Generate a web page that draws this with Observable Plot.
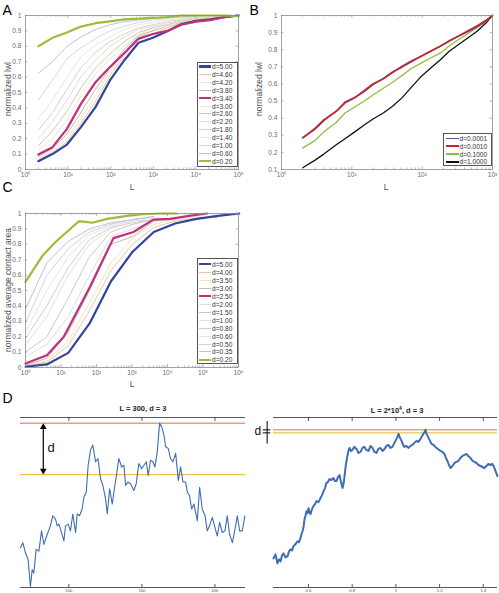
<!DOCTYPE html>
<html><head><meta charset="utf-8">
<script src="https://cdn.jsdelivr.net/npm/d3@7"></script>
<script src="https://cdn.jsdelivr.net/npm/@observablehq/plot@0.6"></script>
<style>
body{margin:0;background:#fff;font-family:"Liberation Sans",Arial,Helvetica,sans-serif;}
#fig{position:relative;width:499px;height:593px;overflow:hidden;background:#fff;}
#fig svg{position:absolute;}
.t{position:absolute;white-space:nowrap;line-height:1;}
.letter{font-size:14px;color:#000;}
.lab{font-size:8.5px;color:#555;}
.legend{position:absolute;background:#fff;border:0.8px solid #555;box-sizing:border-box;}
.row{position:absolute;height:8px;display:flex;align-items:center;font-size:6.6px;color:#333;white-space:nowrap;}
.sw{width:12px;margin-right:1px;}
.ttl{font-size:7.5px;font-weight:bold;color:#222;transform:translate(-50%,-50%);}
</style></head><body><div id="fig"></div><script>
// ---------------- Panel A data ----------------
const LA = [2, 4.3, 9.4, 20, 44, 96, 207, 450, 977, 2120, 4600, 10000, 21700, 47000, 100000];
const dA = ["5.00","4.60","4.20","3.80","3.40","3.00","2.60","2.20","1.80","1.40","1.00","0.60","0.20"];
const A_500 = [0.054,0.10,0.162,0.275,0.405,0.578,0.708,0.823,0.855,0.898,0.945,0.965,0.975,0.99,1.0];
const A_460 = [0.06,0.11,0.18,0.30,0.44,0.61,0.74,0.84,0.88,0.92,0.95,0.97,0.98,0.99,1.0];
const A_420 = [0.07,0.12,0.20,0.33,0.48,0.64,0.76,0.86,0.90,0.93,0.96,0.975,0.985,0.99,1.0];
const A_380 = [0.085,0.135,0.23,0.37,0.52,0.66,0.78,0.87,0.90,0.93,0.955,0.97,0.98,0.99,1.0];
const A_340 = [0.097,0.145,0.264,0.426,0.567,0.665,0.755,0.85,0.88,0.90,0.94,0.96,0.97,0.99,1.0];
const A_300 = [0.125,0.20,0.32,0.48,0.62,0.72,0.80,0.88,0.91,0.93,0.96,0.975,0.985,0.99,1.0];
const A_260 = [0.155,0.25,0.38,0.53,0.66,0.75,0.83,0.89,0.92,0.94,0.965,0.98,0.985,0.99,1.0];
const A_220 = [0.20,0.31,0.45,0.60,0.71,0.80,0.86,0.91,0.93,0.95,0.97,0.98,0.99,0.99,1.0];
const A_180 = [0.255,0.37,0.52,0.66,0.76,0.83,0.88,0.92,0.94,0.96,0.975,0.985,0.99,0.995,1.0];
const A_140 = [0.33,0.45,0.60,0.73,0.81,0.86,0.91,0.94,0.955,0.97,0.98,0.99,0.99,1.0,1.0];
const A_100 = [0.45,0.58,0.72,0.79,0.85,0.90,0.93,0.955,0.97,0.98,0.99,0.99,1.0,1.0,1.0];
const A_060 = [0.625,0.70,0.80,0.86,0.91,0.94,0.96,0.97,0.98,0.99,0.99,1.0,1.0,1.0,1.0];
const A_020 = [0.80,0.855,0.89,0.928,0.95,0.962,0.975,0.98,0.985,0.99,1.0,1.0,1.0,1.0,0.995];
const colorsA = ["#34449a","#eec4ad","#f1e4bb","#bdbdbd","#c2307a","#f3eac0","#cfcab8","#dedede","#e6cfc2","#e2e7ee","#d3d8e4","#c4c0db","#9cbd3a"];
const widthsA = [2.2,1,1,1,2.2,1,1,1,1,1,1,1,2.2];
const valuesA = [A_500,A_460,A_420,A_380,A_340,A_300,A_260,A_220,A_180,A_140,A_100,A_060,A_020];

// ---------------- Panel B data ----------------
const LB = [2,3,4,6,8,11,15,20,28,38,52,70,95,130,180,240,330,450,610,800,1000];
const dB = ["0.0001","0.0010","0.1000","1.0000"];
const B_00001 = [0.285,0.335,0.385,0.44,0.495,0.52,0.555,0.595,0.63,0.665,0.705,0.735,0.76,0.79,0.82,0.85,0.88,0.905,0.935,0.965,1.0];
const B_00010 = [0.285,0.34,0.39,0.44,0.49,0.52,0.56,0.60,0.63,0.67,0.70,0.73,0.76,0.79,0.82,0.85,0.88,0.91,0.94,0.97,1.0];
const B_01000 = [0.225,0.27,0.32,0.375,0.43,0.465,0.50,0.535,0.575,0.61,0.65,0.69,0.72,0.75,0.78,0.82,0.86,0.895,0.93,0.965,1.0];
const B_10000 = [0.11,0.155,0.19,0.245,0.28,0.32,0.36,0.395,0.43,0.47,0.52,0.58,0.64,0.69,0.74,0.79,0.83,0.87,0.91,0.955,1.0];
const colorsB = ["#5257a3","#c0282f","#8fbf3f","#111111"];
const valuesB = [B_00001,B_00010,B_01000,B_10000];

// ---------------- Panel C data ----------------
const LC = [1,4,16,64,256,1024,4096,16384,65536,262144,1048576];
const LC_250 = [1,4,12,64,300,1100,4000,12000,40000,130000];
const LC_020 = [1,3,7,32,76,200,725,2000,6000,18000];
const dC = ["5.00","4.00","3.50","3.00","2.50","2.00","1.50","1.00","0.80","0.60","0.50","0.35","0.20"];
const C_500 = [0.005,0.02,0.095,0.286,0.56,0.75,0.88,0.935,0.965,0.985,1.0];
const C_400 = [0.01,0.035,0.14,0.37,0.63,0.80,0.91,0.95,0.97,0.975];
const C_350 = [0.012,0.045,0.17,0.42,0.68,0.84,0.93,0.96,0.98];
const C_300 = [0.015,0.06,0.23,0.50,0.80,0.85,0.95,0.97,0.99];
const C_250 = [0.026,0.08,0.20,0.52,0.84,0.88,0.96,0.965,0.985,1.0];
const C_200 = [0.07,0.15,0.33,0.60,0.85,0.90,0.95,0.96];
const C_150 = [0.10,0.20,0.45,0.72,0.88,0.93,0.96,0.97];
const C_100 = [0.145,0.33,0.60,0.80,0.90,0.95,0.96];
const C_080 = [0.19,0.40,0.65,0.83,0.91,0.94,0.96];
const C_060 = [0.23,0.50,0.72,0.86,0.92,0.95,0.97];
const C_050 = [0.29,0.60,0.77,0.88,0.93,0.96,0.98];
const C_035 = [0.38,0.68,0.82,0.90,0.94,0.96,0.98];
const C_020 = [0.556,0.725,0.815,0.95,0.94,0.965,0.985,0.995,1.0,1.0];
const colorsC = ["#34449a","#eec4ad","#f1e4bb","#bdbdbd","#c2307a","#dedede","#c9c9c9","#e2e2e2","#e4cbbc","#dfe5ee","#cfd4e0","#c2bed9","#9cbd3a"];
const widthsC = [2.2,1,1,1,2.2,1,1,1,1,1,1,1,2.2];
const valuesC = [C_500,C_400,C_350,C_300,C_250,C_200,C_150,C_100,C_080,C_060,C_050,C_035,C_020];
const xsC = [LC,LC,LC,LC,LC_250,LC,LC,LC,LC,LC,LC,LC,LC_020];

// ---------------- Tick labels ----------------
const xTicksA = [1,10,100,1000,10000,100000];
const xLabelsA = ["10⁰","10¹","10²","10³","10⁴","10⁵"];
const xTicksB = [1,10,100,1000];
const xLabelsB = ["10⁰","10¹","10²","10³"];
const xTicksC = [1,10,100,1000,10000,100000,1000000];
const xLabelsC = ["10⁰","10¹","10²","10³","10⁴","10⁵","10⁶"];
const yTicks01 = [0,0.1,0.2,0.3,0.4,0.5,0.6,0.7,0.8,0.9,1];
const yLabels01 = ["0","0.1","0.2","0.3","0.4","0.5","0.6","0.7","0.8","0.9","1"];
const yTicksB = [0.1,0.2,0.3,0.4,0.5,0.6,0.7,0.8,0.9,1];
const yLabelsB = ["0.1","0.2","0.3","0.4","0.5","0.6","0.7","0.8","0.9","1"];

// ---------------- Panel D data ----------------
const walkLx = [66.9,68.5,70.3,72.1,73.7,74.9,76.0,77.6,79.5,81.3,82.9,85.2,87.4,89.0,90.9,92.0,93.2,95.0,96.6,97.7,99.5,101.1,102.7,104.6,105.7,107.3,109.1,110.3,111.9,113.2,114.8,116.4,118.3,119.9,121.7,123.3,125.1,126.3,127.9,129.7,131.3,132.6,134.2,136.1,137.7,138.8,140.4,142.2,144.5,146.1,147.9,149.8,151.4,153.0,154.3,155.9,157.5,158.9,160.5,162.1,163.5,165.1,166.2,168.0,169.6,171.2,173.1,174.9,176.5,178.1,179.9,181.1,182.6,184.0,185.6,187.9,189.5,191.3,193.2,194.7,196.3,198.2,200.0,201.6,203.2,205.0,206.8,208.4,210.0,211.9,213.7,215.3,216.9,218.7,220.5];
const walkLy = [-4.25,-3.96,-4.55,-4.94,-6.51,-5.53,-5.73,-4.35,-4.45,-3.27,-4.06,-3.47,-2.98,-2.39,-2.59,-2.98,-2.88,-3.37,-3.86,-2.98,-2.88,-3.27,-2.29,-3.37,-2.29,-2.39,-2.0,-1.31,-1.02,0.55,1.43,1.73,0.75,0.94,-0.24,-0.63,-1.41,-2.29,-0.82,-1.71,-0.73,-0.04,0.94,0.45,0.55,-0.63,-0.43,-0.53,-0.92,-0.53,0.65,0.35,0.55,0.75,-0.04,0.84,0.75,0.45,1.33,3.0,2.8,2.31,1.63,1.53,0.94,0.75,1.24,-0.33,0.45,-0.43,-0.43,-1.02,-1.22,-2.0,-1.71,-2.69,-0.73,-2.0,-2.39,-3.27,-2.98,-2.49,-3.08,-3.57,-2.78,-3.37,-3.27,-2.39,-3.47,-3.96,-3.18,-2.39,-3.27,-3.27,-2.39];
const walkRx = [0.44,0.449,0.458,0.465,0.472,0.479,0.486,0.495,0.504,0.511,0.518,0.525,0.531,0.54,0.55,0.556,0.563,0.568,0.573,0.578,0.582,0.587,0.591,0.596,0.6,0.605,0.609,0.616,0.623,0.63,0.637,0.646,0.655,0.662,0.669,0.676,0.682,0.689,0.696,0.705,0.714,0.721,0.728,0.735,0.742,0.749,0.756,0.761,0.765,0.771,0.778,0.783,0.788,0.795,0.801,0.81,0.82,0.829,0.838,0.847,0.856,0.865,0.875,0.884,0.893,0.902,0.911,0.92,0.93,0.939,0.948,0.957,0.966,0.975,0.984,0.991,0.998,1.005,1.012,1.019,1.026,1.033,1.039,1.048,1.058,1.067,1.076,1.085,1.094,1.103,1.113,1.12,1.126,1.131,1.135,1.14,1.145,1.154,1.163,1.172,1.181,1.192,1.204,1.213,1.222,1.229,1.236,1.243,1.25,1.259,1.268,1.277,1.286,1.295,1.305,1.314,1.323,1.33,1.337,1.344,1.351,1.36,1.369,1.378,1.387,1.396,1.405,1.414,1.423,1.432,1.442,1.449,1.456,1.465];
const walkRy = [-125,-121,-130,-126,-128,-122,-120,-124,-123,-118,-116,-117,-113,-111,-108,-109,-105,-101,-98,-93,-86,-82,-78,-80,-75,-79,-81,-76,-73,-71,-68,-69,-65,-62,-58,-55,-50,-49,-46,-47,-45,-48,-48,-44,-42,-49,-55,-50,-43,-32,-23,-18,-15,-18,-17,-14,-16,-20,-19,-15,-14,-17,-18,-13,-15,-19,-20,-16,-15,-18,-16,-13,-12,-15,-14,-11,-8,-5,-1,-5,-8,-12,-14,-13,-15,-13,-12,-10,-8,-9,-6,-3,-1,1,3,-1,-3,-7,-11,-12,-14,-16,-18,-19,-21,-25,-28,-32,-35,-33,-30,-29,-28,-25,-23,-22,-21,-23,-24,-26,-28,-29,-30,-32,-33,-34,-35,-33,-31,-32,-31,-34,-38,-43];
const dLevelL = [0, 3];
const dLevelR = [0, 3];
const xTicksDL = [100,150,200];
const xLabelsDL = ["100","150","200"];
const xTicksDR = [0.6,0.8,1,1.2,1.4];
const xLabelsDR = ["0.6","0.8","1","1.2","1.4"];

// ---------------- helpers ----------------
const fig = document.getElementById("fig");
const FONT = "Liberation Sans, Arial, Helvetica, sans-serif";
const FRAME = "#8a8a8a";
function minorLog(lo, hi) {
  const out = [];
  for (let e = lo; e < hi; e++) for (let m = 2; m <= 9; m++) out.push(m * Math.pow(10, e));
  return out;
}
function place(el, left, top) { el.style.left = left + "px"; el.style.top = top + "px"; fig.appendChild(el); }
function text(str, cls, left, top, extra) {
  const d = document.createElement("div");
  d.className = "t " + cls;
  d.textContent = str;
  if (extra) Object.assign(d.style, extra);
  place(d, left, top);
  return d;
}

function curvePanel(o) {
  const innerW = o.width - o.mL - o.mR, innerH = o.height - o.mT - o.mB;
  const marks = [];
  o.order.forEach(i => {
    const xs = o.xs[i], vs = o.values[i];
    const rows = vs.map((v, k) => ({L: xs[k], v}));
    marks.push(Plot.line(rows, {x: "L", y: "v", stroke: o.colors[i], strokeWidth: o.widths[i], strokeLinejoin: "round"}));
  });
  marks.push(Plot.frame({stroke: FRAME, strokeWidth: 0.8}));
  const tk = {stroke: FRAME, strokeWidth: 0.6};
  marks.push(Plot.tickX(o.xTicks, {x: d => d, insetTop: innerH - 3, ...tk}));
  marks.push(Plot.tickX(o.xTicks, {x: d => d, insetBottom: innerH - 3, ...tk}));
  marks.push(Plot.tickX(o.xMinor, {x: d => d, insetTop: innerH - 1.6, ...tk}));
  marks.push(Plot.tickX(o.xMinor, {x: d => d, insetBottom: innerH - 1.6, ...tk}));
  marks.push(Plot.tickY(o.yTicks, {y: d => d, insetRight: innerW - 2.5, ...tk}));
  marks.push(Plot.tickY(o.yTicks, {y: d => d, insetLeft: innerW - 2.5, ...tk}));
  marks.push(Plot.axisX({ticks: o.xTicks, tickSize: 0, tickPadding: 3, label: null, fontSize: 6.6,
    tickFormat: d => o.xLabels[o.xTicks.indexOf(d)]}));
  marks.push(Plot.axisY({ticks: o.yTicks, tickSize: 0, tickPadding: 4, label: null, fontSize: 6.6,
    tickFormat: d => o.yLabels[o.yTicks.findIndex(t => Math.abs(t - d) < 1e-9)]}));
  const svg = Plot.plot({
    width: o.width, height: o.height,
    marginLeft: o.mL, marginRight: o.mR, marginTop: o.mT, marginBottom: o.mB,
    x: {type: "log", domain: o.xDomain},
    y: {domain: o.yDomain},
    style: {fontFamily: FONT, color: "#6a6a6a", background: "transparent", overflow: "visible"},
    marks
  });
  place(svg, o.left, o.top);
}

function legend(box, labels, colors, widths, y0, step) {
  const lg = document.createElement("div");
  lg.className = "legend";
  lg.style.width = box.w + "px"; lg.style.height = box.h + "px";
  place(lg, box.x, box.y);
  labels.forEach((lab, i) => {
    const r = document.createElement("div");
    r.className = "row";
    r.style.left = "1.5px";
    r.style.top = (y0 + i * step - 4 - box.y) + "px";
    const sw = document.createElement("div");
    sw.className = "sw";
    sw.style.height = widths[i] + "px";
    sw.style.background = colors[i];
    if (box.sw) sw.style.width = box.sw + "px";
    r.appendChild(sw);
    const s = document.createElement("span");
    s.textContent = "d=" + lab;
    r.appendChild(s);
    lg.appendChild(r);
  });
}

// ---------------- Panel A ----------------
curvePanel({
  left: 0, top: 0, width: 250, height: 195, mL: 25, mR: 12, mT: 15, mB: 26,
  xDomain: [1, 1e5], yDomain: [0, 1],
  xs: valuesA.map(() => LA), values: valuesA, colors: colorsA, widths: widthsA,
  order: [1,2,3,5,6,7,8,9,10,11,0,4,12],
  xTicks: xTicksA, xLabels: xLabelsA, xMinor: minorLog(0, 5),
  yTicks: yTicks01, yLabels: yLabels01
});
legend({x: 196.5, y: 61.5, w: 41, h: 105}, dA, colorsA, widthsA.map(w => w > 1.5 ? 2.4 : 1), 65.7, 7.86);
text("normalized lwl", "lab", 7.5, 89, {transform: "translate(-50%,-50%) rotate(-90deg)"});
text("L", "lab", 132, 186.5, {transform: "translate(-50%,-50%)"});
text("A", "letter", 2.5, 3);

// ---------------- Panel B ----------------
curvePanel({
  left: 250, top: 0, width: 249, height: 195, mL: 31, mR: 7, mT: 15, mB: 26,
  xDomain: [1, 1000], yDomain: [0.1, 1],
  xs: valuesB.map(() => LB), values: valuesB, colors: colorsB, widths: [1.3,1.8,1.3,1.3],
  order: [3,2,0,1],
  xTicks: xTicksB, xLabels: xLabelsB, xMinor: minorLog(0, 3),
  yTicks: yTicksB, yLabels: yLabelsB
});
legend({x: 443, y: 133, w: 48.5, h: 32.5, sw: 13}, dB, colorsB, [1.5,2,1.5,1.5], 137.7, 7.7);
text("normalized lwl", "lab", 259, 89, {transform: "translate(-50%,-50%) rotate(-90deg)"});
text("L", "lab", 386, 186.5, {transform: "translate(-50%,-50%)"});
text("B", "letter", 249.5, 3);

// ---------------- Panel C ----------------
curvePanel({
  left: 0, top: 195, width: 250, height: 200, mL: 25, mR: 12, mT: 18, mB: 28,
  xDomain: [1, 1e6], yDomain: [0, 1],
  xs: xsC, values: valuesC, colors: colorsC, widths: widthsC,
  order: [1,2,3,5,6,7,8,9,10,11,0,4,12],
  xTicks: xTicksC, xLabels: xLabelsC, xMinor: minorLog(0, 6),
  yTicks: yTicks01, yLabels: yLabels01
});
legend({x: 196.5, y: 257.5, w: 41, h: 106.5}, dC, colorsC, widthsC.map(w => w > 1.5 ? 2.4 : 1), 263.3, 7.97);
text("normalized average contact area", "lab", 7.5, 290, {transform: "translate(-50%,-50%) rotate(-90deg)"});
text("L", "lab", 132, 384, {transform: "translate(-50%,-50%)"});
text("C", "letter", 2.5, 180);

// ---------------- Panel D ----------------
function walkPanel(o) {
  const innerH = o.height - o.mT - o.mB;
  const rows = o.wx.map((x, i) => ({x, y: o.wy[i]}));
  const ax = {stroke: "#444", strokeWidth: 0.9};
  const marks = [
    Plot.ruleY([o.yDomain[1]], ax),
    Plot.ruleY([o.yDomain[0]], ax),
    Plot.tickX(o.ticks, {x: d => d, insetBottom: innerH - 4, ...ax}),
    Plot.tickX(o.ticks, {x: d => d, insetTop: innerH - 3, ...ax}),
    Plot.ruleY([o.levels[1]], {stroke: "#d8704c", strokeWidth: 1}),
    Plot.ruleY([o.levels[0]], {stroke: "#e2b52c", strokeWidth: 1}),
    Plot.line(rows, {x: "x", y: "y", stroke: "#3f6db3", strokeWidth: o.sw, strokeLinejoin: "round"}),
    Plot.axisX({ticks: o.ticks, tickSize: 0, tickPadding: 1.5, label: null, fontSize: 4.2,
      tickFormat: d => o.labels[o.ticks.findIndex(t => Math.abs(t - d) < 1e-9)]}),
    ...o.extra
  ];
  const svg = Plot.plot({
    width: o.width, height: o.height,
    marginLeft: o.mL, marginRight: o.mR, marginTop: o.mT, marginBottom: o.mB,
    x: {domain: o.xDomain}, y: {domain: o.yDomain, axis: null},
    style: {fontFamily: FONT, color: "#555", background: "transparent", overflow: "visible"},
    marks
  });
  place(svg, o.left, o.top);
}
walkPanel({
  left: 0, top: 395, width: 250, height: 198, mL: 20, mR: 5, mT: 22, mB: 6,
  xDomain: [66.9, 220.9], yDomain: [-6.57, 3.33], wx: walkLx, wy: walkLy, sw: 1.1,
  levels: dLevelL, ticks: xTicksDL, labels: xLabelsDL,
  extra: [
    Plot.ruleX([82.5], {y1: 0.25, y2: 2.75, stroke: "#000", strokeWidth: 1.2}),
    Plot.dot([{x: 82.5, y: 3}], {x: "x", y: "y", symbol: "triangle", r: 2.5, fill: "#000", stroke: null, dy: 4}),
    Plot.dot([{x: 82.5, y: 0}], {x: "x", y: "y", symbol: "triangle", r: 2.5, fill: "#000", stroke: null, dy: -4, rotate: 180}),
    Plot.text([{x: 85.3, y: 1.55}], {x: "x", y: "y", text: () => "d", fontSize: 13, fill: "#111", textAnchor: "start"})
  ]
});
walkPanel({
  left: 250, top: 395, width: 249, height: 198, mL: 23, mR: 2, mT: 22, mB: 6,
  xDomain: [0.44, 1.465], yDomain: [-154, 15.3], wx: walkRx, wy: walkRy, sw: 2,
  levels: dLevelR, ticks: xTicksDR, labels: xLabelsDR,
  extra: [
    Plot.ruleX([0.411], {y1: -11.3, y2: 11.3, stroke: "#000", strokeWidth: 1}),
    Plot.ruleY([3, 0], {x1: 0.393, x2: 0.428, stroke: "#000", strokeWidth: 1}),
    Plot.text([{x: 0.368, y: 1.5}], {x: "x", y: "y", text: () => "d", fontSize: 12, fill: "#111"})
  ]
});
text("L = 300, d = 3", "ttl", 143, 408.5);
const t2 = text("", "ttl", 397, 410);
t2.innerHTML = "L = 2*10<sup style='font-size:5px;vertical-align:3px'>4</sup>, d = 3";
text("D", "letter", 2.5, 391);
</script></body></html>
